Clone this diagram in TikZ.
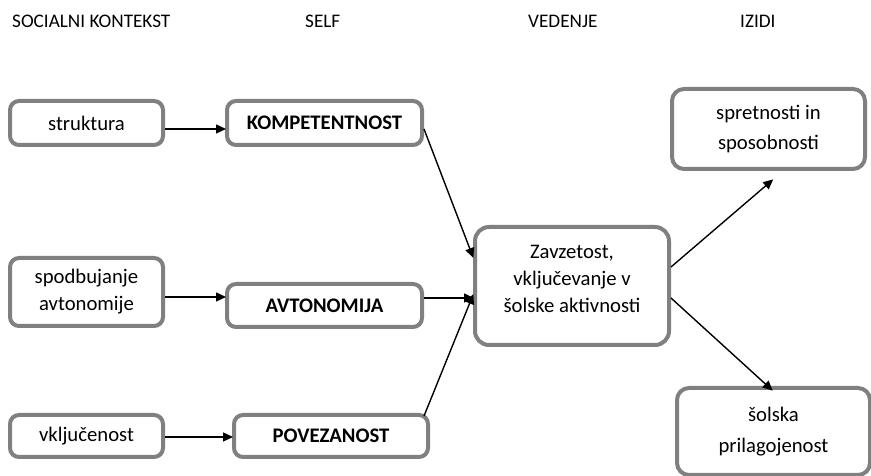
\documentclass[tikz,border=0pt]{standalone}
\usepackage{fontspec}
\setmainfont{Carlito}
\usetikzlibrary{arrows.meta}
\definecolor{boxgray}{RGB}{128,128,128}
\tikzset{
  box/.style={draw=boxgray, line width=4pt, rounded corners=9pt, fill=white,
    align=center, inner sep=0pt, font=\fontsize{20.7}{27}\selectfont},
  bigbox/.style={box, rounded corners=14pt},
  head/.style={anchor=base west, inner sep=0pt, font=\fontsize{19.2}{22}\selectfont},
  conn/.style={-{Triangle[length=10pt,width=9pt]}, line width=1.4pt, black, shorten >=-1pt}
}
\begin{document}
\begin{tikzpicture}[x=1pt,y=1pt]
\useasboundingbox (0,0) rectangle (871,476);
% headers (y = 476 - ypx)
\node[head] (h1) at (12,448) {SOCIALNI KONTEKST};
\node[head] (h2) at (305,448) {SELF};
\node[head] (h3) at (528,448) {VEDENJE};
\node[head] (h4) at (740,448) {IZIDI};
% left column
\node[box, minimum width=153pt, minimum height=44pt] (strukt) at (86.5,353) {struktura};
\node[box, minimum width=153pt, minimum height=68pt] (spod) at (86.5,184) {spodbujanje\\avtonomije};
\node[box, minimum width=153pt, minimum height=42pt] (vklj) at (86.5,40) {vključenost};
% self column
\node[box, minimum width=195pt, minimum height=44pt, font=\fontsize{20.7}{27}\selectfont\bfseries] (komp) at (324.5,353) {KOMPETENTNOST};
\node[box, minimum width=195pt, minimum height=43pt, font=\fontsize{20.7}{27}\selectfont\bfseries] (avto) at (324.5,170.5) {AVTONOMIJA};
\node[box, minimum width=194pt, minimum height=42pt, font=\fontsize{20.7}{27}\selectfont\bfseries] (poveza) at (331,40) {POVEZANOST};
% center
\node[bigbox, minimum width=194pt, minimum height=118pt] (zavz) at (572,190)
  {\begin{tabular}{@{}c@{}}Zavzetost,\\vključevanje v\\šolske aktivnosti\\[12pt]\end{tabular}};
% outcomes
\node[box, rounded corners=12pt, minimum width=193pt, minimum height=80pt, font=\fontsize{20.7}{29.5}\selectfont] (spret) at (768.5,347) {spretnosti in\\sposobnosti};
\node[box, rounded corners=12pt, minimum width=193pt, minimum height=87pt, font=\fontsize{20.7}{31}\selectfont] (solska) at (773.5,44.5) {šolska\\prilagojenost};
% connectors
\draw[conn] ([yshift=-6pt]strukt.east) -- ([yshift=-6pt]komp.west);
\draw[conn] ([yshift=-5pt]spod.east) -- ([yshift=8.5pt]avto.west);
\draw[conn] ([yshift=-1pt]vklj.east) -- ([yshift=-1pt]poveza.west);
\draw[conn] ([yshift=-6pt]komp.east) -- ([yshift=29pt]zavz.west);
\draw[conn] ([yshift=7.5pt]avto.east) -- ([yshift=-12pt]zavz.west);
\draw[conn] ([xshift=-6pt,yshift=-3pt]poveza.north east) -- ([yshift=-9pt]zavz.west);
\draw[conn] ([yshift=19pt]zavz.east) -- ([xshift=4pt,yshift=-9pt]spret.south);
\draw[conn] ([yshift=-12pt]zavz.east) -- ([xshift=-1.5pt,yshift=-4pt]solska.north);
\end{tikzpicture}
\end{document}
